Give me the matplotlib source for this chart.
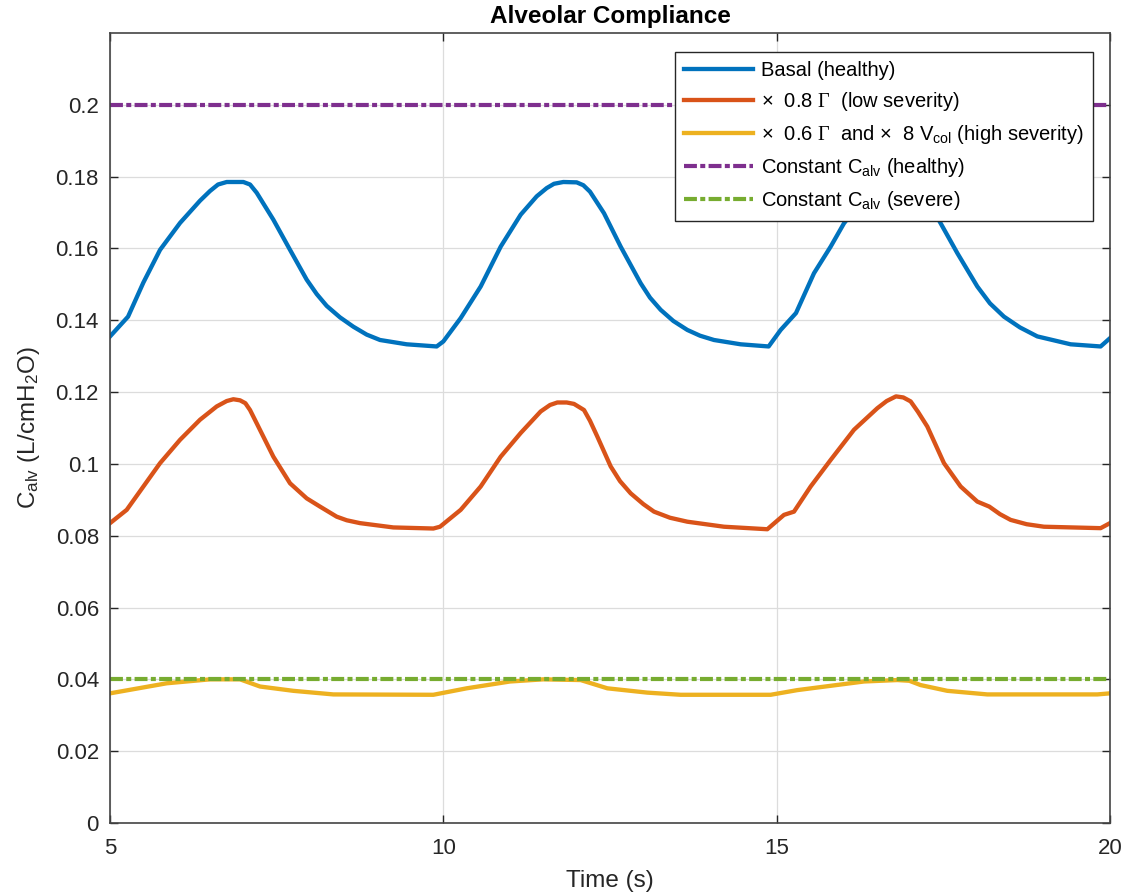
import matplotlib
matplotlib.use('Agg')
import matplotlib.pyplot as plt

## Data (time in s, compliance in L/cmH2O)
t_basal = [5.0, 5.27, 5.5, 5.75, 6.05, 6.35, 6.5, 6.62, 6.75, 7.0, 7.1, 7.2, 7.3, 7.45, 7.7, 7.95, 8.1,
           8.25, 8.45, 8.65, 8.85, 9.05, 9.45, 9.9,
           10.0, 10.26, 10.56, 10.86, 11.16, 11.4, 11.55, 11.66, 11.8, 12.0, 12.1, 12.2, 12.41, 12.66,
           12.96, 13.1, 13.26, 13.45, 13.66, 13.85, 14.06, 14.46, 14.88,
           15.06, 15.29, 15.56, 15.81, 16.01, 16.3, 16.5, 16.65, 16.8, 17.0, 17.1, 17.2, 17.46, 17.71,
           18.01, 18.2, 18.41, 18.65, 18.91, 19.41, 19.86, 20.0]
c_basal = [0.1355, 0.141, 0.1505, 0.1596, 0.1671, 0.1733, 0.176, 0.1778, 0.1785, 0.1785, 0.1778, 0.1755,
           0.1725, 0.168, 0.1596, 0.1513, 0.1473, 0.144, 0.1408, 0.1382, 0.136, 0.1345, 0.1333, 0.1327,
           0.1341, 0.1406, 0.1494, 0.1605, 0.1694, 0.1745, 0.1768, 0.178, 0.1785, 0.1784, 0.1776, 0.1758,
           0.1698, 0.1605, 0.1503, 0.1463, 0.1429, 0.1398, 0.1373, 0.1357, 0.1345, 0.1333, 0.1327,
           0.1373, 0.142, 0.1531, 0.1605, 0.167, 0.1738, 0.1768, 0.178, 0.1786, 0.1786, 0.1778, 0.1755,
           0.167, 0.1587, 0.1494, 0.1447, 0.141, 0.138, 0.1355, 0.1333, 0.1327, 0.135]

t_low = [5.0, 5.25, 5.5, 5.75, 6.05, 6.35, 6.6, 6.75, 6.85, 6.95, 7.03, 7.1, 7.2, 7.45, 7.7, 7.95, 8.15,
         8.4, 8.55, 8.75, 9.25, 9.85, 9.95,
         10.26, 10.56, 10.86, 11.16, 11.46, 11.6, 11.71, 11.85, 11.96, 12.11, 12.2, 12.31, 12.51, 12.65,
         12.81, 13.0, 13.16, 13.4, 13.66, 14.21, 14.86,
         15.11, 15.26, 15.51, 15.81, 16.16, 16.51, 16.65, 16.79, 16.9, 17.01, 17.12, 17.26, 17.51, 17.76,
         18.01, 18.19, 18.35, 18.51, 18.75, 19.01, 19.86, 20.0]
c_low = [0.0835, 0.0872, 0.0937, 0.1002, 0.1067, 0.1123, 0.116, 0.1175, 0.118, 0.1177, 0.1169, 0.115,
         0.1113, 0.102, 0.0946, 0.0904, 0.0881, 0.0853, 0.0843, 0.0835, 0.0823, 0.082, 0.0825,
         0.0872, 0.0937, 0.102, 0.1086, 0.1146, 0.1164, 0.1171, 0.1171, 0.1167, 0.115, 0.112, 0.1076,
         0.0993, 0.0952, 0.0918, 0.0888, 0.0867, 0.085, 0.0839, 0.0825, 0.0818,
         0.0858, 0.0867, 0.0937, 0.1011, 0.1095, 0.1155, 0.1175, 0.1188, 0.1185, 0.1174, 0.1145, 0.1104,
         0.1002, 0.0937, 0.0895, 0.0881, 0.086, 0.0844, 0.0832, 0.0825, 0.0821, 0.0835]

t_high = [5.0, 5.85, 6.5, 6.95, 7.25, 7.75, 8.35, 9.85, 10.35, 11.0, 11.5, 12.06, 12.46, 13.06, 13.56,
          14.91, 15.31, 15.81, 16.31, 16.81, 16.99, 17.16, 17.56, 18.16, 19.81, 20.0]
c_high = [0.0361, 0.0389, 0.04, 0.04, 0.038, 0.0368, 0.0358, 0.0357, 0.0375, 0.0394, 0.04, 0.0398,
          0.0375, 0.0363, 0.0357, 0.0357, 0.037, 0.0382, 0.0394, 0.0398, 0.0396, 0.0384, 0.0368, 0.0358,
          0.0358, 0.0361]

t_const = [5, 20]
c_const_healthy = [0.2, 0.2]
c_const_severe = [0.04, 0.04]

labels = ['Basal (healthy)',
          '×  0.8 $\\mathtt{\\Gamma}$  (low severity)',
          '×  0.6 $\\mathtt{\\Gamma}$  and ×  8 V$_{\\mathrm{col}}$ (high severity)',
          'Constant C$_{\\mathrm{alv}}$ (healthy)',
          'Constant C$_{\\mathrm{alv}}$ (severe)']

x_ticks = [5, 10, 15, 20]
y_ticks = [0, 0.02, 0.04, 0.06, 0.08, 0.1, 0.12, 0.14, 0.16, 0.18, 0.2]
y_ticklabels = ['0', '0.02', '0.04', '0.06', '0.08', '0.1', '0.12', '0.14', '0.16', '0.18', '0.2']

## Style (MATLAB-like)
plt.rcParams['font.family'] = ['Liberation Sans', 'DejaVu Sans']
plt.rcParams['mathtext.fontset'] = 'custom'
plt.rcParams['mathtext.rm'] = 'Liberation Sans'
plt.rcParams['mathtext.it'] = 'Liberation Sans:italic'
plt.rcParams['mathtext.tt'] = 'Liberation Serif'

dashdot = (0, (3.1, 0.8, 1.2, 0.8))

fig = plt.figure(figsize=(11.31, 8.96), dpi=100)
ax = fig.add_axes([0.0973, 0.0815, 0.8841, 0.8817])

ax.plot(t_basal, c_basal, color='#0072BD', lw=3.1, label=labels[0])
ax.plot(t_low, c_low, color='#D95319', lw=3.1, label=labels[1])
ax.plot(t_high, c_high, color='#EDB120', lw=3.1, label=labels[2])
ax.plot(t_const, c_const_healthy, color='#7E2F8E', lw=3, ls=dashdot, label=labels[3])
ax.plot(t_const, c_const_severe, color='#77AC30', lw=3, ls=dashdot, label=labels[4])

ax.set_xlim(5, 20)
ax.set_ylim(0, 0.22)
ax.set_xticks(x_ticks)
ax.set_yticks(y_ticks)
ax.set_yticklabels(y_ticklabels)
ax.tick_params(direction='in', length=6, width=1, colors='#262626', labelsize=16,
               top=True, right=True, pad=8)
ax.tick_params(axis='x', pad=11)
ax.grid(True, color='#dcdcdc', lw=0.9)
ax.set_axisbelow(True)
for s in ax.spines.values():
    s.set_color('#444444')
    s.set_linewidth(1.2)

ax.set_title('Alveolar Compliance', fontsize=17.5, fontweight='bold', pad=7)
ax.set_xlabel('Time (s)', fontsize=17.5, color='#262626', labelpad=8)
ax.set_ylabel('C$_{\\mathrm{alv}}$ (L/cmH$_{\\mathrm{2}}$O)', fontsize=17.5, color='#262626', labelpad=10)

leg = ax.legend(loc='upper right', bbox_to_anchor=(0.983, 0.976), borderaxespad=0,
                fontsize=14.5, handlelength=3.4, handletextpad=0.4, labelspacing=0.5,
                fancybox=False, framealpha=1, edgecolor='#262626', borderpad=0.45)
leg.get_frame().set_linewidth(1.0)

fig.savefig('out.png', dpi=100)
